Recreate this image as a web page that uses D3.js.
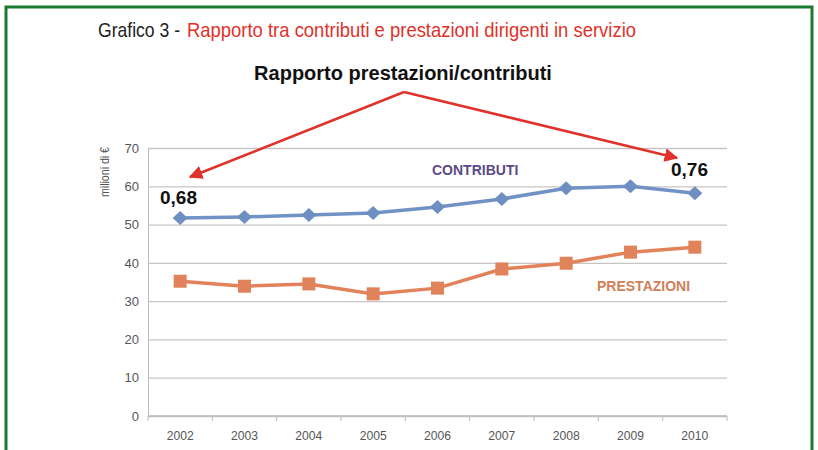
<!DOCTYPE html>
<html lang="it">
<head>
  <meta charset="UTF-8">
  <title>Grafico 3</title>
  <script src="https://d3js.org/d3.v7.min.js"></script>
  <style>
    * { margin: 0; padding: 0; box-sizing: border-box; }
    body { background: #fff; font-family: "Liberation Sans", Arial, sans-serif; }
  </style>
</head>
<body>
  <div id="chart"></div>
  <script>
    const anni = ["2002", "2003", "2004", "2005", "2006", "2007", "2008", "2009", "2010"];
    const contributi = [51.7, 52.0, 52.5, 53.0, 54.6, 56.7, 59.5, 60.0, 58.2];
    const prestazioni = [35.2, 33.9, 34.5, 31.9, 33.4, 38.4, 39.9, 42.8, 44.1];
    const yTicks = [0, 10, 20, 30, 40, 50, 60, 70];

    const W = 818, H = 450;
    const pLeft = 148, pRight = 727, pTop = 148, pBottom = 416;

    const svg = d3.select("#chart").append("svg")
      .attr("width", W).attr("height", H);

    // cornice verde
    svg.append("rect")
      .attr("x", 6).attr("y", 7).attr("width", 806).attr("height", 460)
      .attr("fill", "none").attr("stroke", "#1a7a32").attr("stroke-width", 3);

    const x = d3.scaleBand().domain(anni).range([pLeft, pRight]);
    const y = d3.scaleLinear().domain([0, 70]).range([pBottom, pTop]);

    // titolo (carattere stretto simulato con textLength)
    svg.append("text")
      .attr("x", 98).attr("y", 37)
      .attr("textLength", 82).attr("lengthAdjust", "spacingAndGlyphs")
      .style("font-size", "21px").attr("fill", "#222")
      .text("Grafico 3 -");
    svg.append("text")
      .attr("x", 187).attr("y", 37)
      .attr("textLength", 449).attr("lengthAdjust", "spacingAndGlyphs")
      .style("font-size", "21px").attr("fill", "#e0312a")
      .text("Rapporto tra contributi e prestazioni dirigenti in servizio");

    svg.append("text")
      .attr("x", 403).attr("y", 80)
      .attr("text-anchor", "middle")
      .style("font-size", "20px").style("font-weight", "bold").attr("fill", "#111")
      .text("Rapporto prestazioni/contributi");

    // griglia
    svg.append("g")
      .attr("transform", `translate(${pLeft},0)`)
      .call(d3.axisLeft(y).tickValues(yTicks).tickSize(-(pRight - pLeft)).tickFormat(""))
      .call(g => g.select(".domain").remove())
      .selectAll("line").attr("stroke", "#c9c4c4").attr("stroke-width", 1.3);

    // asse y
    svg.append("g")
      .attr("transform", `translate(${pLeft},0)`)
      .call(d3.axisLeft(y).tickValues(yTicks).tickSize(0).tickPadding(9))
      .call(g => g.select(".domain").attr("stroke", "#bbb"))
      .selectAll("text")
      .style("font-size", "13px").attr("fill", "#555");

    // asse x
    const xa = svg.append("g").attr("transform", `translate(0,${pBottom})`);
    xa.append("line").attr("x1", pLeft).attr("x2", pRight).attr("stroke", "#bbb").attr("stroke-width", 1.5);
    xa.selectAll(".tk").data(anni.concat(["end"])).enter().append("line")
      .attr("x1", (d, i) => i < anni.length ? x(d) : x(anni[anni.length - 1]) + x.bandwidth())
      .attr("x2", (d, i) => i < anni.length ? x(d) : x(anni[anni.length - 1]) + x.bandwidth())
      .attr("y1", 0).attr("y2", 5).attr("stroke", "#bbb");
    xa.selectAll(".lab").data(anni).enter().append("text")
      .attr("x", d => x(d) + x.bandwidth() / 2).attr("y", 24)
      .attr("text-anchor", "middle")
      .attr("textLength", 27).attr("lengthAdjust", "spacingAndGlyphs")
      .style("font-size", "13px").attr("fill", "#555")
      .text(d => d);

    svg.append("text")
      .attr("transform", `translate(109,172) rotate(-90)`)
      .attr("text-anchor", "middle")
      .attr("textLength", 50).attr("lengthAdjust", "spacingAndGlyphs")
      .style("font-size", "12px").attr("fill", "#555")
      .text("milioni di €");

    const cx = d => x(d) + x.bandwidth() / 2;
    const line = d3.line().x((d, i) => cx(anni[i])).y(d => y(d));

    svg.append("path").datum(contributi)
      .attr("d", line).attr("fill", "none").attr("stroke", "#7092c4").attr("stroke-width", 3.5);
    svg.selectAll(".diam").data(contributi).enter().append("path")
      .attr("d", "M0,-7L7.5,0L0,7L-7.5,0Z")
      .attr("transform", (d, i) => `translate(${cx(anni[i])},${y(d)})`)
      .attr("fill", "#6e8fc2");

    svg.append("path").datum(prestazioni)
      .attr("d", line).attr("fill", "none").attr("stroke", "#e2825a").attr("stroke-width", 3.5);
    svg.selectAll(".sq").data(prestazioni).enter().append("rect")
      .attr("x", (d, i) => cx(anni[i]) - 6.5).attr("y", d => y(d) - 6.5)
      .attr("width", 13).attr("height", 13)
      .attr("fill", "#e0825a");

    svg.append("text").attr("x", 432).attr("y", 175)
      .style("font-size", "14px").style("font-weight", "bold").attr("fill", "#5a4a88")
      .text("CONTRIBUTI");
    svg.append("text").attr("x", 597).attr("y", 291)
      .style("font-size", "14px").style("font-weight", "bold").attr("fill", "#d08058")
      .text("PRESTAZIONI");

    svg.append("text").attr("x", 160).attr("y", 204)
      .style("font-size", "19px").style("font-weight", "bold").attr("fill", "#111")
      .text("0,68");
    svg.append("text").attr("x", 671).attr("y", 176)
      .style("font-size", "19px").style("font-weight", "bold").attr("fill", "#111")
      .text("0,76");

    // frecce
    const defs = svg.append("defs");
    defs.append("marker").attr("id", "ah")
      .attr("viewBox", "0 0 10 10").attr("refX", 9).attr("refY", 5)
      .attr("markerWidth", 5.5).attr("markerHeight", 5.5).attr("orient", "auto")
      .append("path").attr("d", "M0,0L10,5L0,10Z").attr("fill", "#e0312a");
    svg.append("line").attr("x1", 404).attr("y1", 92).attr("x2", 190).attr("y2", 177)
      .attr("stroke", "#e0312a").attr("stroke-width", 2.5).attr("marker-end", "url(#ah)");
    svg.append("line").attr("x1", 404).attr("y1", 92).attr("x2", 677).attr("y2", 158)
      .attr("stroke", "#e0312a").attr("stroke-width", 2.5).attr("marker-end", "url(#ah)");
  </script>
</body>
</html>
